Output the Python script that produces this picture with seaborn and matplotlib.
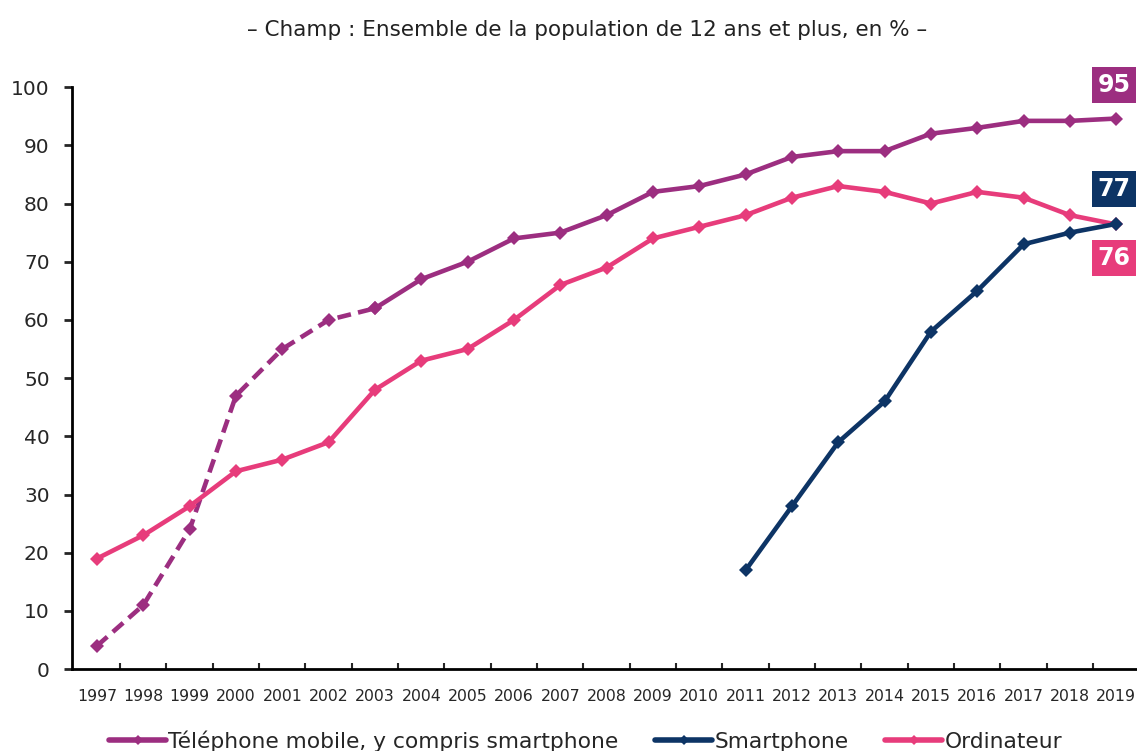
import numpy as np
import pandas as pd
import matplotlib
matplotlib.use("Agg")
import matplotlib.pyplot as plt
import seaborn as sns
from matplotlib.lines import Line2D

years = list(range(1997, 2020))
mobile = [4, 11, 24, 47, 55, 60, 62, 67, 70, 74, 75, 78, 82, 83, 85, 88, 89, 89, 92, 93, 94.2, 94.2, 94.6]
ordinateur = [19, 23, 28, 34, 36, 39, 48, 53, 55, 60, 66, 69, 74, 76, 78, 81, 83, 82, 80, 82, 81, 78, 76.4]
smart_years = list(range(2011, 2020))
smartphone = [17, 28, 39, 46, 58, 65, 73, 75, 76.5]

labels = ["Téléphone mobile, y compris smartphone", "Smartphone", "Ordinateur"]
end_labels = ["95", "77", "76"]
c_mobile = "#9C2E80"
c_smart = "#0D3465"
c_ordi = "#E73C7B"

df = pd.DataFrame({"annee": years, "mobile": mobile, "ordinateur": ordinateur})
df_smart = pd.DataFrame({"annee": smart_years, "smartphone": smartphone})
df_dash = df[df["annee"] <= 2003]
df_solid = df[df["annee"] >= 2003]

sns.set_style("white")
plt.rcParams["font.family"] = ["DejaVu Sans"]

fig = plt.figure(figsize=(11.37, 7.51), dpi=100)
ax = fig.add_axes([0.0633, 0.109, 0.936, 0.775])

kw = dict(marker="D", markersize=7.5, linewidth=3.3, markeredgewidth=0)
sns.lineplot(data=df_dash, x="annee", y="mobile", color=c_mobile, ax=ax,
             linestyle=(0, (3, 1.6)), **kw)
sns.lineplot(data=df_solid, x="annee", y="mobile", color=c_mobile, ax=ax, **kw)
sns.lineplot(data=df, x="annee", y="ordinateur", color=c_ordi, ax=ax, **kw)
sns.lineplot(data=df_smart, x="annee", y="smartphone", color=c_smart, ax=ax, **kw)

ax.set_xlim(1996.46, 2019.43)
ax.set_ylim(0, 100)
ax.set_yticks(range(0, 101, 10))
ax.set_xticks(years)
ax.set_xticklabels([str(y) for y in years], fontsize=11.3)
ax.set_xticks([y + 0.5 for y in years[:-1]], minor=True)
ax.tick_params(axis="y", labelsize=14.5, direction="out", length=6, width=2, left=True, pad=10)
ax.tick_params(axis="x", which="major", length=0, pad=14)
ax.tick_params(axis="x", which="minor", direction="in", length=4, width=1.5, bottom=True)
ax.set_xlabel("")
ax.set_ylabel("")
for s in ["top", "right"]:
    ax.spines[s].set_visible(False)
for s in ["left", "bottom"]:
    ax.spines[s].set_linewidth(2)
    ax.spines[s].set_color("black")

# valeurs finales
ends = [(end_labels[0], 100.4, c_mobile), (end_labels[1], 82.5, c_smart), (end_labels[2], 70.6, c_ordi)]
for txt, ypos, col in ends:
    ax.text(2018.95, ypos, txt, color="white", fontsize=17, fontweight="bold",
            ha="center", va="center", clip_on=False,
            bbox=dict(boxstyle="square,pad=0.25", facecolor=col, edgecolor="none"))

fig.text(0.516, 0.96, "– Champ : Ensemble de la population de 12 ans et plus, en % –",
         ha="center", va="center", fontsize=15.5, color="#222222")

handles = [Line2D([0], [0], color=c, marker="D", markersize=5, linewidth=4, markeredgewidth=0)
           for c in [c_mobile, c_smart, c_ordi]]
fig.legend(handles, labels, loc="lower center", bbox_to_anchor=(0.515, -0.027), ncol=3,
           frameon=False, fontsize=15.7, handlelength=2.6, handletextpad=0.1, columnspacing=1.7)

fig.savefig("out.png", dpi=100)
